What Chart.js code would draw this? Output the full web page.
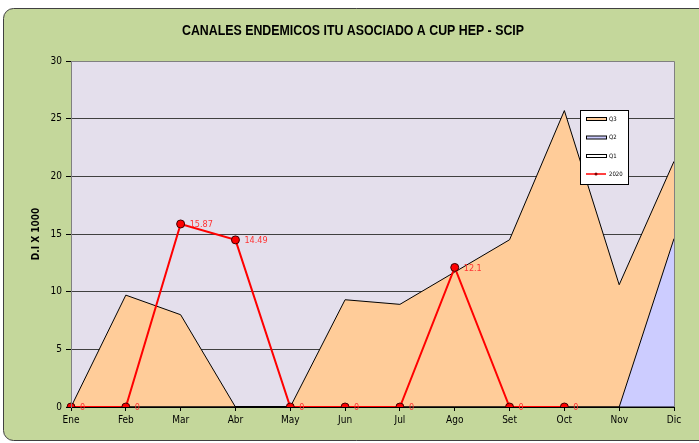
<!DOCTYPE html>
<html>
<head>
<meta charset="utf-8">
<script src="https://cdn.jsdelivr.net/npm/chart.js@4/dist/chart.umd.min.js"></script>
<style>
  html, body { margin: 0; padding: 0; background: #ffffff; }
  #wrap { width: 699px; height: 443px; position: relative; }
</style>
</head>
<body>
<div id="wrap"><canvas id="canal"></canvas></div>
<script>
// Meses y valores del canal endemico
const meses = ['Ene', 'Feb', 'Mar', 'Abr', 'May', 'Jun', 'Jul', 'Ago', 'Set', 'Oct', 'Nov', 'Dic'];
const q3 = [0, 9.7, 8, 0, 0, 9.3, 8.9, 11.7, 14.5, 25.7, 10.6, 21.3];
const q2 = [0, 0, 0, 0, 0, 0, 0, 0, 0, 0, 0, 14.6];
const q1 = [0, 0, 0, 0, 0, 0, 0, 0, 0, 0, 0, 0];
const casos2020 = [0, 0, 15.87, 14.49, 0, 0, 0, 12.1, 0, 0, null, null];
const ticksY = [0, 5, 10, 15, 20, 25, 30];

const titulo = 'CANALES ENDEMICOS ITU ASOCIADO A CUP HEP - SCIP';
const fuente = "'Liberation Sans Narrow', 'DejaVu Sans Condensed', Arial, sans-serif";

// Fondo verde, area del grafico, titulo, leyenda y etiquetas
const decoracion = {
  id: 'decoracion',
  beforeDraw(chart) {
    const ctx = chart.ctx;
    const a = chart.chartArea;
    ctx.save();
    ctx.fillStyle = '#ffffff';
    ctx.fillRect(0, 0, chart.width, chart.height);
    ctx.beginPath();
    ctx.roundRect(3.5, 8.5, 710, 432, 10);
    ctx.fillStyle = '#C4D79B';
    ctx.fill();
    ctx.strokeStyle = '#404040';
    ctx.lineWidth = 1;
    ctx.stroke();
    ctx.fillStyle = '#E4DFEC';
    ctx.fillRect(a.left, a.top, a.right - a.left, a.bottom - a.top);
    ctx.restore();
  },
  afterDatasetsDraw(chart) {
    const ctx = chart.ctx;
    const a = chart.chartArea;
    ctx.save();
    // borde del area
    ctx.strokeStyle = '#808080';
    ctx.lineWidth = 1;
    ctx.beginPath();
    ctx.moveTo(Math.round(a.left) + 0.5, a.bottom);
    ctx.lineTo(Math.round(a.left) + 0.5, Math.round(a.top) + 0.5);
    ctx.lineTo(Math.round(a.right) + 0.5, Math.round(a.top) + 0.5);
    ctx.lineTo(Math.round(a.right) + 0.5, a.bottom);
    ctx.stroke();

    // etiquetas de 2020
    const meta = chart.getDatasetMeta(0);
    ctx.fillStyle = '#FF3333';
    ctx.font = '9px ' + fuente;
    ctx.textAlign = 'left';
    ctx.textBaseline = 'middle';
    meta.data.forEach((p, i) => {
      const v = casos2020[i];
      if (v === null) return;
      ctx.fillText(String(v), p.x + 9, p.y + 1);
    });

    // titulo estrechado a lo Arial Narrow
    ctx.save();
    ctx.fillStyle = '#000000';
    ctx.font = 'bold 14px "Liberation Sans", Arial, sans-serif';
    ctx.textAlign = 'center';
    ctx.textBaseline = 'middle';
    const ancho = ctx.measureText(titulo).width;
    ctx.translate(353, 31);
    ctx.scale(342 / ancho, 1);
    ctx.fillText(titulo, 0, 0);
    ctx.restore();

    // titulo eje y
    ctx.fillStyle = '#000000';
    ctx.textAlign = 'center';
    ctx.textBaseline = 'middle';
    ctx.translate(36, (a.top + a.bottom) / 2);
    ctx.rotate(-Math.PI / 2);
    ctx.font = 'bold 10px ' + fuente;
    ctx.fillText('D.I X 1000', 0, 0);
    ctx.restore();

    // leyenda
    ctx.save();
    const lx = 580.5, ly = 110.5, lw = 48, lh = 74;
    ctx.fillStyle = '#ffffff';
    ctx.fillRect(lx, ly, lw, lh);
    ctx.strokeStyle = '#000000';
    ctx.strokeRect(lx, ly, lw, lh);
    const items = [
      { t: 'Q3', c: '#FFCC99' },
      { t: 'Q2', c: '#CCCCFF' },
      { t: 'Q1', c: '#FFFFFF' }
    ];
    ctx.font = '6px ' + fuente;
    ctx.textBaseline = 'middle';
    items.forEach((it, i) => {
      const y = 119 + i * 18.5;
      ctx.fillStyle = it.c;
      ctx.fillRect(586.5, y - 1.5, 20, 3);
      ctx.strokeStyle = '#000000';
      ctx.strokeRect(586.5, y - 1.5, 20, 3);
      ctx.fillStyle = '#000000';
      ctx.fillText(it.t, 609, y);
    });
    const y4 = 174;
    ctx.strokeStyle = '#FF0000';
    ctx.lineWidth = 1.5;
    ctx.beginPath();
    ctx.moveTo(586, y4);
    ctx.lineTo(606, y4);
    ctx.stroke();
    ctx.fillStyle = '#800000';
    ctx.beginPath();
    ctx.arc(596, y4, 1.5, 0, Math.PI * 2);
    ctx.fill();
    ctx.fillStyle = '#000000';
    ctx.fillText('2020', 609, y4);
    ctx.restore();
  }
};

const canvas = document.getElementById('canal').getContext('2d');

const grafico = new Chart(canvas, {
  type: 'line',
  data: {
    labels: meses,
    datasets: [
      {
        label: '2020',
        data: casos2020,
        borderColor: '#FF0000',
        borderWidth: 2,
        backgroundColor: '#FF0000',
        pointRadius: 4,
        pointBorderColor: '#400000',
        pointBorderWidth: 1,
        pointBackgroundColor: '#FF0000',
        fill: false,
        tension: 0
      },
      {
        label: 'Q1',
        data: q1,
        borderColor: '#000000',
        borderWidth: 1,
        backgroundColor: '#FFFFFF',
        pointRadius: 0,
        fill: 'origin',
        tension: 0
      },
      {
        label: 'Q2',
        data: q2,
        borderColor: '#000000',
        borderWidth: 1,
        backgroundColor: '#CCCCFF',
        pointRadius: 0,
        fill: 'origin',
        tension: 0
      },
      {
        label: 'Q3',
        data: q3,
        borderColor: '#000000',
        borderWidth: 1,
        backgroundColor: '#FFCC99',
        pointRadius: 0,
        fill: 'origin',
        tension: 0
      }
    ]
  },
  options: {
    responsive: true,
    maintainAspectRatio: false,
    animation: false,
    layout: { padding: { top: 61, right: 25, bottom: 0, left: 0 } },
    scales: {
      x: {
        offset: false,
        afterFit(scale) { scale.height = 36; },
        grid: {
          drawOnChartArea: false,
          drawTicks: true,
          tickLength: 4,
          color: '#000000'
        },
        border: { color: '#000000', width: 2 },
        ticks: {
          color: '#000000',
          padding: 3,
          maxRotation: 0,
          autoSkip: false,
          font: { family: fuente, size: 10 }
        }
      },
      y: {
        min: 0,
        max: 30,
        afterFit(scale) { scale.width = 71; },
        afterBuildTicks(scale) { scale.ticks = ticksY.map(v => ({ value: v })); },
        grid: {
          color: '#404040',
          tickLength: 5,
          tickColor: '#000000'
        },
        border: { color: '#808080' },
        ticks: {
          color: '#000000',
          padding: 4,
          font: { family: fuente, size: 10 }
        }
      }
    },
    plugins: {
      legend: { display: false },
      title: { display: false },
      tooltip: { enabled: false }
    }
  },
  plugins: [decoracion]
});
</script>
</body>
</html>
